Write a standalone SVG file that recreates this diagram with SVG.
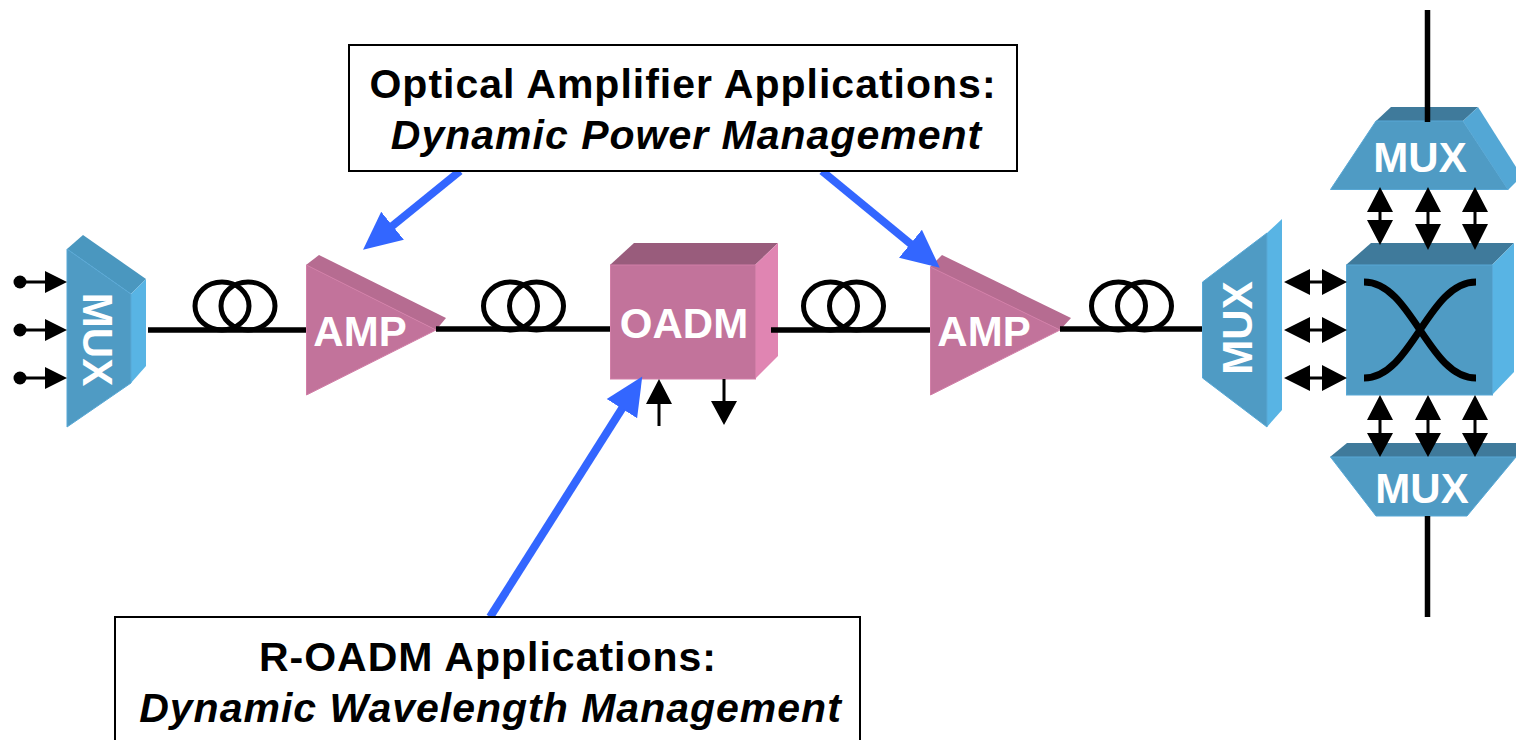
<svg xmlns="http://www.w3.org/2000/svg" width="1516" height="740" viewBox="0 0 1516 740">
<style>
text{font-family:"Liberation Sans",Arial,sans-serif;font-weight:700}
.lbl{font-size:42px;fill:#fff;text-anchor:middle}
.cap{font-size:41px;letter-spacing:1px;fill:#000;text-anchor:middle}
.it{font-style:italic}
.box{fill:#fff;stroke:#000;stroke-width:2}
.bf{fill:#4f9bc4;stroke:#58a8d6;stroke-width:1}
.bs{fill:#58b4e4}
.bs2{fill:#53a7d5}
.bt{fill:#3f7a9b}
.bt2{fill:#4a97bf}
.pf{fill:#c2739b;stroke:#d27fa8;stroke-width:1}
.pt{fill:#b66c91}
.pt2{fill:#995c7c}
.ps{fill:#e085b2}
.w{fill:none;stroke:#000;stroke-width:5}
.line{fill:none;stroke:#000;stroke-width:5.500}
.thin{fill:none;stroke:#000;stroke-width:3}
.ah{fill:#000}
.blue{stroke:#3366ff;stroke-width:8;fill:none;marker-end:url(#bh)}
</style>
<defs>
<marker id="bh" markerUnits="userSpaceOnUse" markerWidth="44" markerHeight="44" refX="2" refY="20" orient="auto" viewBox="0 0 44 40"><path d="M0 2 L38 20 L0 38 Z" fill="#3366ff"/></marker>
<g id="coil"><ellipse cx="-13" cy="0" rx="27" ry="24" class="w"/><ellipse cx="13" cy="0" rx="27" ry="24" class="w"/></g>
</defs>
<g id="mux-left">
<polygon class="bt2" points="67,249 83,235 146,279 131,294"/>
<polygon class="bs" points="131,294 146,279 146,366 131,383"/>
<polygon class="bf" points="67,249 131,294 131,383 67,427"/>
<text class="lbl" transform="translate(83 339.500) rotate(90)" x="0" y="0">MUX</text>
</g>
<g id="amp-1">
<polygon class="pt" points="306,265 319,255 446,318 436,330"/>
<polygon class="pf" points="306.500,265 436,330 306.500,395"/>
<text class="lbl" x="360" y="346">AMP</text>
</g>
<g id="oadm">
<polygon class="pt2" points="610,265 634,243 778,243 755,265"/>
<polygon class="ps" points="755,265 778,243 778,356 755,379"/>
<rect class="pf" x="610.500" y="265" width="145" height="114"/>
<text class="lbl" x="684" y="338">OADM</text>
</g>
<g id="amp-2">
<polygon class="pt" points="930,267 942,255 1071,318 1060,330"/>
<polygon class="pf" points="930.500,267 1060,330 930.500,395"/>
<text class="lbl" x="984" y="346">AMP</text>
</g>
<g id="mux-right">
<polygon class="bs" points="1267,233 1282,219 1282,410 1267,427"/>
<polygon class="bf" points="1202.500,282 1267,233 1267,427 1202.500,378"/>
<text class="lbl" transform="translate(1252 328) rotate(-90)" x="0" y="0">MUX</text>
</g>
<g id="cross-connect">
<polygon class="bt" points="1346,265 1371,243 1514,243 1492,265"/>
<polygon class="bs" points="1492,265 1514,243 1514,372 1492,395"/>
<rect class="bf" x="1346.500" y="265" width="146" height="130"/>
<path fill="none" stroke="#000" stroke-width="7" d="M1364 282C1412 282 1428 378 1476 378M1476 282C1428 282 1412 378 1364 378"/>
</g>
<g id="mux-top">
<polygon class="bt" points="1376,121 1391,107 1478,107 1463,121"/>
<polygon class="bs2" points="1463,121 1478,107 1516,167 1516,182 1508,190"/>
<polygon class="bf" points="1330.500,189.500 1376,121 1463,121 1508,189.500"/>
<text class="lbl" x="1420" y="172">MUX</text>
</g>
<g id="mux-bottom">
<polygon class="bt" points="1330,457 1347,443 1516,443 1516,457"/>
<polygon class="bf" points="1330.500,457 1516,457 1467,516 1376,516"/>
<text class="lbl" x="1422" y="503">MUX</text>
</g>
<g id="connectors">
<path class="line" d="M148 330H306M436 329H610M771 330H930M1060 329H1202M1427.500 10V122M1427.500 516V617"/>
<use href="#coil" x="235" y="306"/>
<use href="#coil" x="523.500" y="306"/>
<use href="#coil" x="843.500" y="306"/>
<use href="#coil" x="1131.500" y="306"/>
<g id="inputs">
<circle cx="20" cy="282" r="6.500"/><circle cx="20" cy="330" r="6.500"/><circle cx="20" cy="378" r="6.500"/>
<path class="thin" d="M20 282H46M20 330H46M20 378H46"/>
<path class="ah" d="M45 271L67 282L45 293ZM45 319L67 330L45 341ZM45 367L67 378L45 389Z"/>
</g>
<g id="oadm-arrows">
<path class="thin" d="M659 400V426M724 379V403"/>
<path class="ah" d="M659 379L672 404H646ZM724 425L711 401H737Z"/>
</g>
<g id="double-arrows">
<path class="thin" d="M1300 282H1330M1300 330H1330M1300 378H1330M1380 205V230M1428 205V230M1475 205V230M1380 415V440M1428 415V440M1475 415V440"/>
<path class="ah" d="M1284 282L1310 269V295ZM1347 282L1322 269V295ZM1284 330L1310 317V343ZM1347 330L1322 317V343ZM1284 378L1310 365V391ZM1347 378L1322 365V391Z"/>
<path class="ah" d="M1380 187L1393 212H1367ZM1380 245L1367 220H1393ZM1428 187L1441 212H1415ZM1428 250L1415 224H1441ZM1475 187L1488 212H1462ZM1475 250L1462 224H1488Z"/>
<path class="ah" d="M1380 395L1393 420H1367ZM1380 457L1367 433H1393ZM1428 395L1441 420H1415ZM1428 457L1415 433H1441ZM1475 395L1488 420H1462ZM1475 457L1462 433H1488Z"/>
</g>
<g id="callout-arrows">
<path class="blue" d="M460 171L391 227"/>
<path class="blue" d="M822 171L912 245"/>
<path class="blue" d="M490 617L623 407"/>
</g>
</g>
<g id="callout-amp">
<rect class="box" x="349" y="45" width="668" height="126"/>
<text class="cap" x="683" y="98">Optical Amplifier Applications:</text>
<text class="cap it" x="686.500" y="149">Dynamic Power Management</text>
</g>
<g id="callout-oadm">
<rect class="box" x="115" y="617" width="745" height="140"/>
<text class="cap" x="488" y="671">R-OADM Applications:</text>
<text class="cap it" x="490.500" y="722">Dynamic Wavelength Management</text>
</g>
</svg>
